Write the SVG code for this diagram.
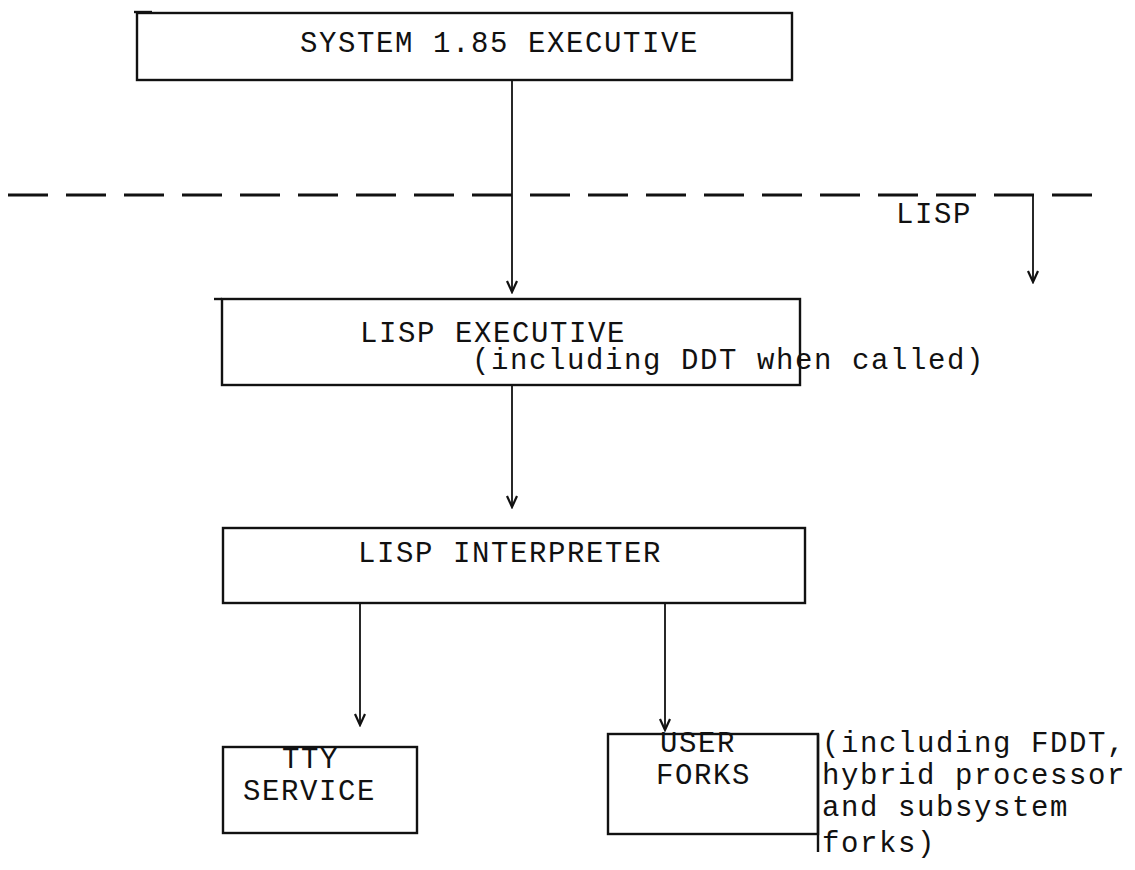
<svg xmlns="http://www.w3.org/2000/svg" width="1135" height="870" viewBox="0 0 1135 870">
  <style>
    .box { fill: none; stroke: #111; stroke-width: 2.4; }
    .lbl { font-family: "Liberation Mono", "Courier New", monospace; font-size: 29px; letter-spacing: 1.6px; fill: #111; }
    .wire { fill: none; stroke: #111; stroke-width: 1.8; }
    .boundary { fill: none; stroke: #111; stroke-width: 3; stroke-dasharray: 40 18; }
  </style>
  <defs>
    <!-- small open chevron head, drawn along +x so orient="auto" follows the wire -->
    <marker id="tip" viewBox="-14 -7 16 14" refX="0" refY="0" markerWidth="16" markerHeight="14" markerUnits="userSpaceOnUse" orient="auto">
      <path d="M-11,-5 L0,0 L-11,5" fill="none" stroke="#111" stroke-width="2.2"/>
    </marker>
  </defs>

  <rect width="1135" height="870" fill="#fff"/>

  <!-- system / lisp boundary -->
  <line class="boundary" x1="8" y1="195" x2="1092" y2="195"/>
  <text class="lbl" x="896" y="223">LISP</text>

  <g id="connectors">
    <line class="wire" x1="512" y1="80" x2="512" y2="292" marker-end="url(#tip)"/>
    <line class="wire" x1="1033" y1="195" x2="1033" y2="282" marker-end="url(#tip)"/>
    <line class="wire" x1="512" y1="385" x2="512" y2="507" marker-end="url(#tip)"/>
    <line class="wire" x1="360" y1="603" x2="360" y2="725" marker-end="url(#tip)"/>
    <line class="wire" x1="665" y1="603" x2="665" y2="730" marker-end="url(#tip)"/>
  </g>

  <g id="system-executive">
    <rect class="box" x="137" y="13" width="655" height="67"/>
    <line class="box" x1="134" y1="12" x2="152" y2="12" stroke-width="3.5"/>
    <text class="lbl" x="300" y="52">SYSTEM 1.85 EXECUTIVE</text>
  </g>

  <g id="lisp-executive">
    <rect class="box" x="222" y="299" width="578" height="86"/>
    <line class="box" x1="214" y1="299" x2="222" y2="299"/>
    <text class="lbl" x="360" y="342">LISP EXECUTIVE</text>
    <text class="lbl" x="472" y="369">(including DDT when called)</text>
  </g>

  <g id="lisp-interpreter">
    <rect class="box" x="223" y="528" width="582" height="75"/>
    <text class="lbl" x="358" y="562">LISP INTERPRETER</text>
  </g>

  <g id="tty-service">
    <rect class="box" x="223" y="747" width="194" height="86"/>
    <text class="lbl" x="282" y="768">TTY</text>
    <text class="lbl" x="243" y="800">SERVICE</text>
  </g>

  <g id="user-forks">
    <rect class="box" x="608" y="734" width="210" height="100"/>
    <line class="box" x1="818" y1="734" x2="818" y2="852"/>
    <text class="lbl" x="660" y="752">USER</text>
    <text class="lbl" x="656" y="784">FORKS</text>
    <text class="lbl" x="822" y="752">(including FDDT,</text>
    <text class="lbl" x="822" y="784">hybrid processor</text>
    <text class="lbl" x="822" y="816">and subsystem</text>
    <text class="lbl" x="822" y="852">forks)</text>
  </g>
</svg>
